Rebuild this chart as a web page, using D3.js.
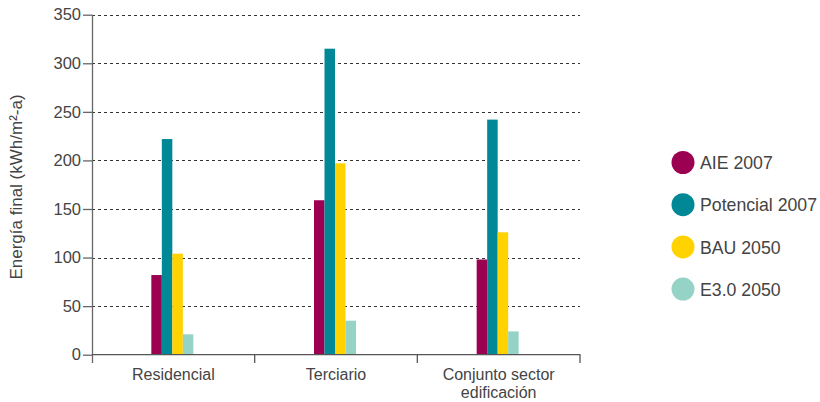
<!DOCTYPE html>
<html>
<head>
<meta charset="utf-8">
<script src="https://cdn.jsdelivr.net/npm/d3@7"></script>
<style>
  html, body { margin: 0; padding: 0; background: #fff; }
  svg { display: block; }
  text { font-family: "Liberation Sans", Arial, sans-serif; fill: #444; }
</style>
</head>
<body>
<svg id="chart" width="820" height="402"></svg>
<script>
const categories = ["Residencial", "Terciario", "Conjunto sector edificación"];
const categoryLines = [["Residencial"], ["Terciario"], ["Conjunto sector", "edificación"]];
const seriesNames = ["AIE 2007", "Potencial 2007", "BAU 2050", "E3.0 2050"];
const seriesColors = ["#9c0050", "#008896", "#ffd200", "#95d3c6"];
const aie2007 = [82, 159, 98];
const potencial2007 = [222, 315, 242];
const bau2050 = [104, 197, 126];
const e3_2050 = [21, 35, 24];
const yTicks = [0, 50, 100, 150, 200, 250, 300, 350];
const seriesValues = [aie2007, potencial2007, bau2050, e3_2050];

const svg = d3.select("#chart");
const pLeft = 92, pRight = 580, pTop = 14.7, pBottom = 354.7;

const x = d3.scaleBand().domain(categories).range([pLeft, pRight]).paddingInner(0).paddingOuter(0);
const y = d3.scaleLinear().domain([0, 350]).range([pBottom, pTop]);
const groupW = 42;
const x1 = d3.scaleBand().domain(seriesNames).range([0, groupW]).padding(0);

// grid lines
svg.append("g").selectAll("line").data(yTicks.filter(d => d > 0)).join("line")
  .attr("x1", pLeft).attr("x2", pRight)
  .attr("y1", d => Math.round(y(d)) + 0.5).attr("y2", d => Math.round(y(d)) + 0.5)
  .attr("stroke", "#333").attr("stroke-width", 1).attr("stroke-dasharray", "3,3");

// bars
const groups = svg.append("g").selectAll("g").data(categories).join("g")
  .attr("transform", d => `translate(${x(d) + x.bandwidth() / 2 - groupW / 2 - 1},0)`);
groups.selectAll("rect").data((c, i) => seriesNames.map((s, j) => ({ s, j, v: seriesValues[j][i] })))
  .join("rect")
  .attr("x", d => x1(d.s))
  .attr("width", x1.bandwidth())
  .attr("y", d => y(d.v))
  .attr("height", d => y(0) - y(d.v))
  .attr("fill", d => seriesColors[d.j]);

// y axis
const yAxis = svg.append("g").attr("transform", `translate(${pLeft},0)`)
  .call(d3.axisLeft(y).tickValues(yTicks).tickSize(9).tickPadding(2).tickFormat(d3.format("d")));
yAxis.select(".domain").attr("d", `M0.5,${pTop}V363`).attr("stroke", "#666").attr("stroke-width", 1.3);
yAxis.selectAll(".tick line").attr("stroke", "#666").attr("stroke-width", 1.3);
yAxis.selectAll(".tick text").attr("font-size", 16.5).attr("fill", "#444")
  .attr("font-family", "Liberation Sans, Arial, sans-serif");

// x axis
const xAxisG = svg.append("g");
xAxisG.append("line").attr("x1", pLeft).attr("x2", pRight + 0.5)
  .attr("y1", pBottom).attr("y2", pBottom).attr("stroke", "#555").attr("stroke-width", 1.3);
const tickXs = categories.map(c => x(c)).concat([pRight]);
xAxisG.selectAll("line.t").data(tickXs.slice(1)).join("line").attr("class", "t")
  .attr("x1", d => d).attr("x2", d => d).attr("y1", pBottom).attr("y2", 363)
  .attr("stroke", "#555").attr("stroke-width", 1.3);

const xl = svg.append("g").selectAll("text").data(categories).join("text")
  .attr("x", d => x(d) + x.bandwidth() / 2)
  .attr("y", 379.5)
  .attr("text-anchor", "middle")
  .attr("font-size", 16);
xl.each(function(d, i) {
  const t = d3.select(this);
  categoryLines[i].forEach((ln, k) => {
    t.append("tspan").attr("x", x(d) + x.bandwidth() / 2).attr("dy", k === 0 ? 0 : 18).text(ln);
  });
});

// y label
svg.append("text")
  .attr("transform", "translate(22,187) rotate(-90)")
  .attr("text-anchor", "middle")
  .attr("font-size", 17)
  .text("Energía final (kWh/m²-a)");

// legend
const lg = svg.append("g").selectAll("g").data(seriesNames).join("g")
  .attr("transform", (d, i) => `translate(683,${162.5 + i * 42.2})`);
lg.append("circle").attr("r", 11.5).attr("fill", (d, i) => seriesColors[i]);
lg.append("text").attr("x", 17).attr("y", 6.6).attr("font-size", 17.7).text(d => d);
</script>
</body>
</html>
